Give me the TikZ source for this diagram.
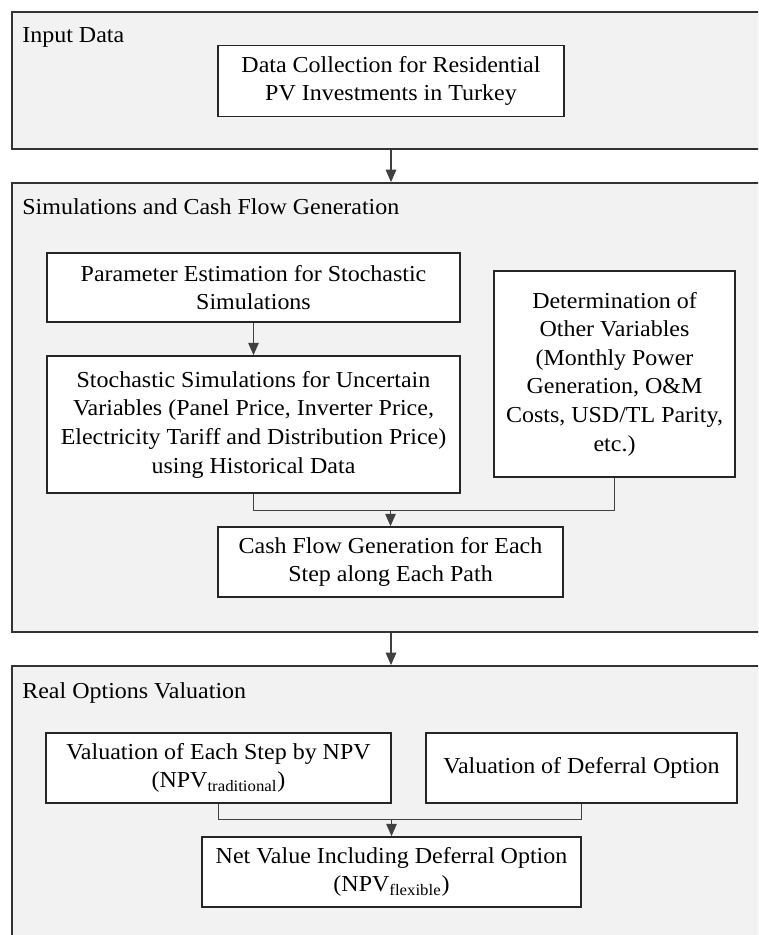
\documentclass[tikz,border=0pt]{standalone}
\usepackage{fontspec}
\setmainfont[FakeStretch=1.05]{Liberation Serif}
\usetikzlibrary{arrows.meta, positioning, calc}

\tikzset{
  panel/.style={draw=black!80, line width=1.1pt, fill=black!5, inner sep=0pt},
  stage/.style={draw=black!85, line width=1pt, fill=white, align=center, inner sep=0pt,
    font=\fontsize{13}{16.3}\selectfont},
  box size/.style 2 args={minimum width=#1*0.02cm, minimum height=#2*0.02cm},
  title/.style={anchor=base west, inner sep=0pt, font=\fontsize{13}{16.3}\selectfont},
  flow/.style={draw=black!75, line width=0.6pt},
  arr/.style={flow, -{Triangle[length=7pt, width=6pt]}},
}

\begin{document}
\begin{tikzpicture}[x=0.02cm, y=-0.02cm]
\useasboundingbox (0,0) rectangle (758,935);
\clip (0,0) rectangle (758,935);

% Input data
\node[panel, box size={768}{137}] (p1) at (396,80.5) {};
\node[title] (t1) at (22,43) {Input Data};
\node[stage, box size={346}{71}] (collect) at (391,81)
  {Data Collection for Residential\\PV Investments in Turkey};

% Simulations and cash flows
\node[panel, box size={768}{449}] (p2) at (396,407.5) {};
\node[title] (t2) at (22,215) {Simulations and Cash Flow Generation};
\node[stage, box size={413}{69}] (param) at (253.5,287.5)
  {Parameter Estimation for Stochastic\\Simulations};
\node[stage, box size={413}{137}] (stoch) at (253.5,424.5)
  {Stochastic Simulations for Uncertain\\Variables (Panel Price, Inverter Price,\\
   Electricity Tariff and Distribution Price)\\using Historical Data};
\node[stage, box size={241}{206}] (other) at (614.5,374)
  {Determination of\\Other Variables\\(Monthly Power\\Generation, O\&M\\
   Costs, USD/TL Parity,\\etc.)};
\node[stage, box size={345}{70}] (cash) at (390.5,562)
  {Cash Flow Generation for Each\\Step along Each Path};

% Real options
\node[panel, box size={768}{290}] (p3) at (396,811) {};
\node[title] (t3) at (22,698) {Real Options Valuation};
\node[stage, box size={345}{70}] (npv) at (218.5,768)
  {Valuation of Each Step by NPV\\(NPV\textsubscript{traditional})};
\node[stage, box size={311}{70}] (defer) at (581.5,768)
  {Valuation of Deferral Option};
\node[stage, box size={379}{70}] (net) at (391.5,872)
  {Net Value Including Deferral Option\\(NPV\textsubscript{flexible})};

% connectors
\coordinate (j1) at ($(cash.north)+(0,-16)$);
\coordinate (j2) at ($(net.north)+(0,-17)$);
\draw[arr] (collect.south |- p1.south) -- (collect.south |- p2.north);
\draw[arr] (param) -- (stoch);
\draw[flow] (stoch.south) |- (j1) -| (other.south);
\draw[arr] (j1) -- (cash);
\draw[arr] (collect.south |- p2.south) -- (collect.south |- p3.north);
\draw[flow] (npv.south) |- (j2) -| (defer.south);
\draw[arr] (j2) -- (net);
\end{tikzpicture}
\end{document}
